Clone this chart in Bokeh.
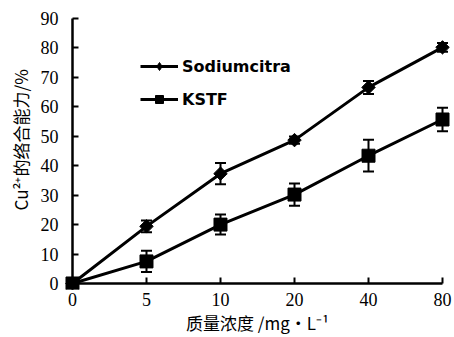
import math
from bokeh.plotting import figure
from bokeh.models import (LinearAxis, FixedTicker, Range1d, Whisker, ColumnDataSource,
                          Legend, LegendItem, TeeHead, Title)
from bokeh.embed import file_html
from bokeh.resources import INLINE

# ---- data ----
concentrations = ["0", "5", "10", "20", "40", "80"]
sodium = [0, 19.4, 37.3, 48.7, 66.6, 80.2]
sodium_err = [0, 2.0, 3.6, 1.2, 2.2, 1.5]
kstf = [0, 7.5, 20.0, 30.2, 43.4, 55.7]
kstf_err = [0, 3.6, 3.4, 3.8, 5.4, 4.0]
y_ticks = [0, 10, 20, 30, 40, 50, 60, 70, 80, 90]
series_names = ["Sodiumcitra", "KSTF"]
x_title = "质量浓度 /mg•L⁻¹"
y_title = "Cu²⁺的络合能力/%"

idx = list(range(len(concentrations)))
x_overrides = {i: c for i, c in enumerate(concentrations)}

p = figure(width=454, height=337, output_backend="svg", toolbar_location=None,
           x_range=Range1d(-0.135, 5.135), y_range=Range1d(-2.04, 92.04),
           min_border_left=62, min_border_right=2, min_border_top=12, min_border_bottom=48)
p.grid.visible = False
p.outline_line_color = None
p.background_fill_color = "white"
p.border_fill_color = "white"

# edge axes: labels only
bx = p.xaxis[0]
by = p.yaxis[0]
bx.ticker = FixedTicker(ticks=idx)
bx.major_label_overrides = x_overrides
by.ticker = FixedTicker(ticks=y_ticks)
for ax in (bx, by):
    ax.axis_line_color = None
    ax.major_tick_line_color = None
    ax.minor_tick_line_color = None
    ax.major_tick_in = 0
    ax.major_tick_out = 0
    ax.minor_tick_in = 0
    ax.minor_tick_out = 0
    ax.major_label_text_font = "Liberation Serif"
    ax.major_label_text_font_size = "18px"
    ax.major_label_text_color = "black"
bx.major_label_standoff = 3
by.major_label_standoff = 4
bx.axis_label = x_title
bx.axis_label_standoff = 1
bx.axis_label_text_font = "Noto Sans CJK SC"
bx.axis_label_text_font_size = "17px"
bx.axis_label_text_font_style = "normal"
bx.axis_label_text_color = "black"

# axes at data zero: lines and ticks only
xaxis = LinearAxis(fixed_location=0, bounds=(0, len(concentrations) - 1),
                   ticker=FixedTicker(ticks=idx))
yaxis = LinearAxis(fixed_location=0, bounds=(0, 90), ticker=FixedTicker(ticks=y_ticks))
for ax in (xaxis, yaxis):
    ax.axis_line_width = 2.5
    ax.axis_line_color = "black"
    ax.major_tick_line_width = 2
    ax.minor_tick_in = 0
    ax.minor_tick_out = 0
    ax.major_label_text_font_size = "0px"
    ax.major_label_text_alpha = 0
    ax.major_label_standoff = 0
xaxis.major_tick_in = 0
xaxis.major_tick_out = 6
yaxis.major_tick_in = 6
yaxis.major_tick_out = 0
p.add_layout(xaxis, "above")
p.add_layout(yaxis, "left")

p.add_layout(Title(text=y_title, align="left", offset=79, vertical_align="bottom",
                   standoff=10, text_font="Noto Sans CJK SC", text_font_size="17px",
                   text_font_style="normal", text_color="black"), "left")

def err_source(vals, errs):
    xs = idx[1:]
    return ColumnDataSource(dict(x=xs,
                                 upper=[v + e for v, e in zip(vals[1:], errs[1:])],
                                 lower=[v - e for v, e in zip(vals[1:], errs[1:])]))

for vals, errs in ((sodium, sodium_err), (kstf, kstf_err)):
    w = Whisker(base="x", upper="upper", lower="lower", source=err_source(vals, errs),
                line_width=2, line_color="black",
                upper_head=TeeHead(size=11, line_width=2, line_color="black"),
                lower_head=TeeHead(size=11, line_width=2, line_color="black"))
    p.add_layout(w)

src_s = ColumnDataSource(dict(x=idx, y=sodium))
src_k = ColumnDataSource(dict(x=idx, y=kstf))
l1 = p.line("x", "y", source=src_s, line_width=3, line_color="black")
# diamond symbol (used for the legend; covered by the rounder marker on top)
d1 = p.scatter("x", "y", source=src_s, marker="diamond", size=12, fill_color="black",
               line_color="black")
m1 = p.scatter("x", "y", source=src_s, marker="square", angle=math.pi / 4, size=9.5,
               fill_color="black", line_color="black", line_width=1)
l2 = p.line("x", "y", source=src_k, line_width=3, line_color="black")
m2 = p.scatter("x", "y", source=src_k, marker="square", size=13, fill_color="black",
               line_color="black")

legend = Legend(items=[LegendItem(label=series_names[0], renderers=[l1, d1]),
                       LegendItem(label=series_names[1], renderers=[l2, m2])],
                location=(78, 180), padding=0, margin=0, spacing=13,
                glyph_width=38, glyph_height=20, label_height=20, label_standoff=4,
                border_line_color=None, background_fill_alpha=0,
                label_text_font="DejaVu Sans", label_text_font_style="bold",
                label_text_font_size="16px", label_text_color="black")
p.add_layout(legend, "center")

open("out.html", "w").write(file_html(p, INLINE))
